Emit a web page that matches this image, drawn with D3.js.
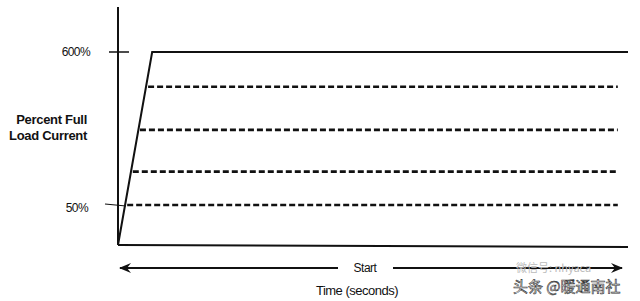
<!DOCTYPE html>
<html>
<head>
<meta charset="utf-8">
<script src="https://cdn.jsdelivr.net/npm/d3@7"></script>
<style>
  body { margin: 0; background: #fff; }
  text { font-family: "Liberation Sans", Arial, sans-serif; fill: #111; }
</style>
</head>
<body>
<div id="chart"></div>
<script>
// data (schematic)
const tickLevels = [50, 600]
const tickLabels = ["50%", "600%"]
const rampTime = [0, 6.7, 100]      // solid curve: full-voltage start
const rampLevel = [0, 600, 600]
const dashLevels = [50, 170, 320, 475]
const dashStart = [1.8, 2.9, 4.3, 5.9]
const dashEnd = 98
const yTitle = ["Percent Full", "Load Current"]
const xTitle = "Time (seconds)"
const arrowLabel = "Start"

const width = 640, height = 301

const svg = d3.select("#chart")
  .append("svg")
  .attr("width", width)
  .attr("height", height)

// time -> x
const x = d3.scaleLinear()
  .domain([0, 100])
  .range([118, 628])

// percent -> y (not to scale in the original, piecewise)
const y = d3.scaleLinear()
  .domain([0, 50, 600])
  .range([245, 205, 52])

const line = d3.line()
  .x(d => x(d.t))
  .y(d => y(d.v))

// y axis line
svg.append("line")
  .attr("x1", x(0)).attr("x2", x(0))
  .attr("y1", 7).attr("y2", y(0))
  .attr("stroke", "#111").attr("stroke-width", 2)

// x axis line
svg.append("line")
  .attr("x1", x(0)).attr("x2", x(100))
  .attr("y1", y(0)).attr("y2", y(0) + 2)
  .attr("stroke", "#111").attr("stroke-width", 2)

// ticks across the y axis
svg.append("line")
  .attr("x1", 109).attr("x2", 129)
  .attr("y1", y(600)).attr("y2", y(600))
  .attr("stroke", "#111").attr("stroke-width", 1.5)
svg.append("line")
  .attr("x1", 105).attr("x2", 126)
  .attr("y1", y(50) - 1).attr("y2", y(50) + 1)
  .attr("stroke", "#111").attr("stroke-width", 1.2)

svg.selectAll(".tick-label")
  .data(tickLevels)
  .join("text")
  .attr("class", "tick-label")
  .attr("x", (d, i) => i == 0 ? 88 : 90)
  .attr("y", d => y(d) + (d == 50 ? 7 : 4))
  .attr("text-anchor", "end")
  .style("font-size", "12px")
  .style("letter-spacing", "-0.6px")
  .text((d, i) => tickLabels[i])

// y title
svg.selectAll(".ytitle")
  .data(yTitle)
  .join("text")
  .attr("class", "ytitle")
  .attr("x", 87)
  .attr("y", (d, i) => 124 + i * 16)
  .attr("text-anchor", "end")
  .style("font-size", "13px")
  .style("font-weight", "bold")
  .style("letter-spacing", "-0.3px")
  .text(d => d)

// solid curve
svg.append("path")
  .datum(rampTime.map((t, i) => ({ t: t, v: rampLevel[i] })))
  .attr("fill", "none")
  .attr("stroke", "#111")
  .attr("stroke-width", 2)
  .attr("d", line)

// dashed curves
svg.selectAll(".dash")
  .data(dashLevels)
  .join("path")
  .attr("class", "dash")
  .attr("fill", "none")
  .attr("stroke", "#111")
  .attr("stroke-width", 2.6)
  .attr("stroke-dasharray", "6,3")
  .attr("d", (d, i) => line([{ t: dashStart[i], v: d }, { t: dashEnd, v: d }]))

// time arrow
const ay = 268
const defs = svg.append("defs")
defs.append("marker")
  .attr("id", "head")
  .attr("viewBox", "0 0 12 10")
  .attr("refX", 11).attr("refY", 5)
  .attr("markerWidth", 12).attr("markerHeight", 10)
  .attr("markerUnits", "userSpaceOnUse")
  .attr("orient", "auto-start-reverse")
  .append("path")
  .attr("d", "M0,0 L12,5 L0,10 L4,5 Z")
  .attr("fill", "#111")

svg.append("line")
  .attr("x1", 120).attr("x2", 338)
  .attr("y1", ay).attr("y2", ay)
  .attr("stroke", "#111").attr("stroke-width", 2)
  .attr("marker-start", "url(#head)")
svg.append("line")
  .attr("x1", 393).attr("x2", 622)
  .attr("y1", ay).attr("y2", ay)
  .attr("stroke", "#111").attr("stroke-width", 2)
  .attr("marker-end", "url(#head)")

svg.append("text")
  .attr("x", 365).attr("y", ay + 4)
  .attr("text-anchor", "middle")
  .style("font-size", "12px")
  .style("letter-spacing", "-0.5px")
  .text(arrowLabel)

svg.append("text")
  .attr("x", 357).attr("y", 295)
  .attr("text-anchor", "middle")
  .style("font-size", "13px")
  .style("letter-spacing", "-0.5px")
  .text(xTitle)

// watermark
svg.append("text")
  .attr("x", 516).attr("y", 272)
  .style("font-family", "'Noto Sans CJK SC', sans-serif")
  .style("font-size", "11px")
  .style("fill", "#bbb")
  .text("微信号: nhyaca")
svg.append("text")
  .attr("x", 513).attr("y", 292)
  .style("font-family", "'Noto Sans CJK SC', sans-serif")
  .style("font-size", "15px")
  .style("fill", "#fff")
  .style("stroke", "#333")
  .style("stroke-width", 0.6)
  .text("头条 @暖通南社")
</script>
</body>
</html>
